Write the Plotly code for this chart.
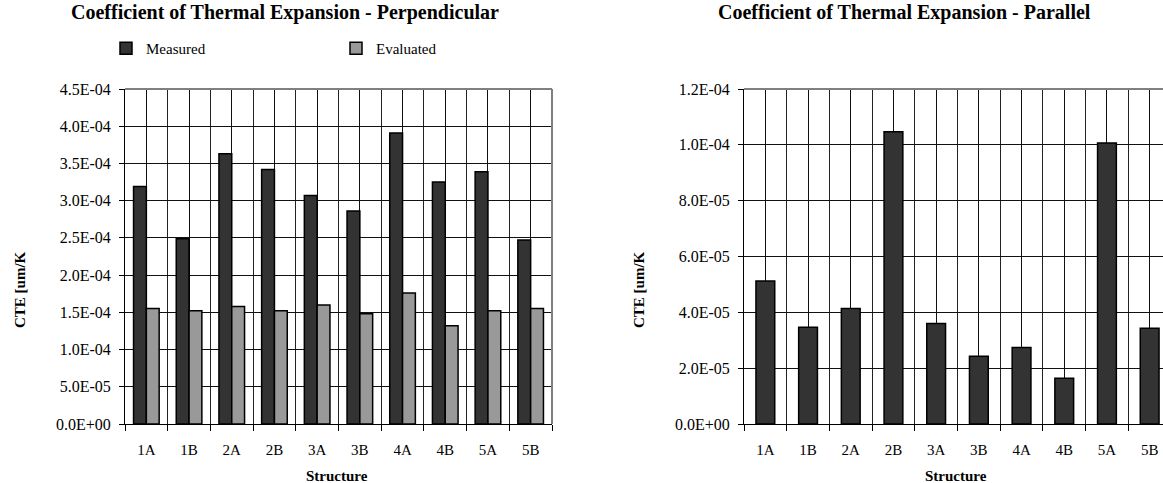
import plotly.graph_objects as go

categories = ["1A", "1B", "2A", "2B", "3A", "3B", "4A", "4B", "5A", "5B"]
perp_measured = [3.19e-4, 2.49e-4, 3.63e-4, 3.42e-4, 3.07e-4, 2.86e-4, 3.91e-4, 3.25e-4, 3.39e-4, 2.47e-4]
perp_evaluated = [1.55e-4, 1.52e-4, 1.58e-4, 1.52e-4, 1.60e-4, 1.48e-4, 1.76e-4, 1.32e-4, 1.52e-4, 1.55e-4]
par_measured = [5.12e-5, 3.47e-5, 4.14e-5, 1.047e-4, 3.60e-5, 2.43e-5, 2.74e-5, 1.64e-5, 1.007e-4, 3.43e-5]

perp_ticks = [0, 5e-5, 1e-4, 1.5e-4, 2e-4, 2.5e-4, 3e-4, 3.5e-4, 4e-4, 4.5e-4]
perp_ticktext = ["0.0E+00", "5.0E-05", "1.0E-04", "1.5E-04", "2.0E-04", "2.5E-04",
                 "3.0E-04", "3.5E-04", "4.0E-04", "4.5E-04"]
par_ticks = [0, 2e-5, 4e-5, 6e-5, 8e-5, 1e-4, 1.2e-4]
par_ticktext = ["0.0E+00", "2.0E-05", "4.0E-05", "6.0E-05", "8.0E-05", "1.0E-04", "1.2E-04"]

idx = list(range(len(categories)))
boundaries = [i - 0.5 for i in range(len(categories) + 1)]

FONT = "Liberation Serif, Times New Roman, serif"
W, H = 1163, 483

def px_x(p):
    return p / W

def px_y(p):
    return 1 - p / H

fig = go.Figure()
fig.add_trace(go.Bar(x=idx, y=perp_measured, name="Measured", xaxis="x", yaxis="y",
                     marker=dict(color="#333333", line=dict(color="black", width=1.5))))
fig.add_trace(go.Bar(x=idx, y=perp_evaluated, name="Evaluated", xaxis="x", yaxis="y",
                     marker=dict(color="#999999", line=dict(color="black", width=1.5))))
fig.add_trace(go.Bar(x=idx, y=par_measured, name="Parallel", xaxis="x2", yaxis="y2",
                     showlegend=False, width=0.44,
                     marker=dict(color="#333333", line=dict(color="black", width=1.5))))

ydom = [px_y(424), px_y(89)]

def xaxis_cfg(domain, rng):
    return dict(
        domain=domain, range=rng, tickmode="array", tickvals=idx, ticktext=categories,
        ticks="outside", ticklen=12, tickcolor="rgba(0,0,0,0)", automargin=False,
        showgrid=True, gridcolor="#111111", gridwidth=1,
        showline=True, linecolor="black", linewidth=1, zeroline=False,
        tickfont=dict(family=FONT, size=15, color="black"),
        minor=dict(tickvals=boundaries, ticks="outside", ticklen=6, tickcolor="black",
                   showgrid=True, gridcolor="#222222", gridwidth=1),
        fixedrange=True,
    )

def yaxis_cfg(anchor, rng, tv, tt):
    return dict(
        domain=ydom, anchor=anchor, range=rng, tickmode="array", tickvals=tv, ticktext=tt,
        ticks="outside", ticklen=5, tickcolor="black", automargin=False,
        ticklabelstandoff=5,
        showgrid=True, gridcolor="#111111", gridwidth=1,
        showline=True, linecolor="black", linewidth=1, zeroline=False,
        tickfont=dict(family=FONT, size=16, color="black"),
        fixedrange=True,
    )

x1 = [px_x(125), px_x(552)]
x2 = [px_x(744), 1.0]
# right chart extends beyond the image edge: show 9.81 categories
r2_end = -0.5 + (1163 - 744) / 42.7

fig.update_layout(
    width=W, height=H, margin=dict(l=0, r=0, t=0, b=0, pad=0, autoexpand=False),
    paper_bgcolor="white", plot_bgcolor="white",
    barmode="group", bargap=0.40, bargroupgap=0,
    font=dict(family=FONT, color="black"),
    xaxis=xaxis_cfg(x1, [-0.5, 9.5]) | dict(anchor="y"),
    yaxis=yaxis_cfg("x", [0, 4.5e-4], perp_ticks, perp_ticktext),
    xaxis2=xaxis_cfg(x2, [-0.5, r2_end]) | dict(anchor="y2"),
    yaxis2=yaxis_cfg("x2", [0, 1.2e-4], par_ticks, par_ticktext),
    showlegend=True,
    legend=dict(orientation="h", x=px_x(106), y=px_y(32), xanchor="left", yanchor="top",
                entrywidth=185, entrywidthmode="pixels", itemwidth=30,
                font=dict(family=FONT, size=15, color="black"), bgcolor="rgba(0,0,0,0)"),
)

# gray top/right frame of the plot areas
fig.add_shape(type="line", xref="x domain", yref="y domain", x0=0, x1=1, y0=1, y1=1,
              line=dict(color="#808080", width=2))
fig.add_shape(type="line", xref="x domain", yref="y domain", x0=1, x1=1, y0=0, y1=1,
              line=dict(color="#808080", width=2))
fig.add_shape(type="line", xref="x2 domain", yref="y2 domain", x0=0, x1=1, y0=1, y1=1,
              line=dict(color="#808080", width=2))

ann = [
    dict(text="<b>Coefficient of Thermal Expansion - Perpendicular</b>", x=px_x(285), y=px_y(12), size=20),
    dict(text="<b>Coefficient of Thermal Expansion - Parallel</b>", x=px_x(904), y=px_y(12), size=20),
    dict(text="<b>Structure</b>", x=px_x(337), y=px_y(476), size=15),
    dict(text="<b>Structure</b>", x=px_x(956), y=px_y(476), size=15),
]
for a in ann:
    fig.add_annotation(text=a["text"], x=a["x"], y=a["y"], xref="paper", yref="paper",
                       showarrow=False, xanchor="center", yanchor="middle",
                       font=dict(family=FONT, size=a["size"], color="black"))
for xc in (20, 639):
    fig.add_annotation(text="<b>CTE [um/K</b>", x=px_x(xc), y=px_y(290), xref="paper", yref="paper",
                       showarrow=False, textangle=-90, xanchor="center", yanchor="middle",
                       font=dict(family=FONT, size=15, color="black"))

fig.write_html("out.html", config={"displayModeBar": False},
               post_script="document.body.style.margin='0';document.body.style.overflow='hidden';")
